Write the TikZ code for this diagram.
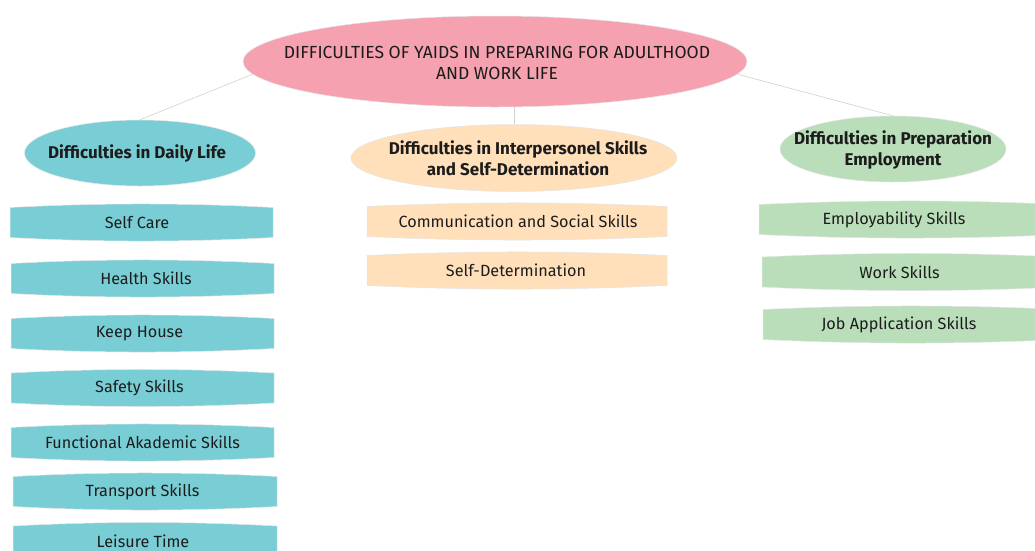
\documentclass[tikz,border=0pt]{standalone}
\usepackage{fontspec}
\setmainfont{Fira Sans}
\usetikzlibrary{shapes.geometric,calc}
\definecolor{rootpink}{RGB}{245,161,176}
\definecolor{tealc}{RGB}{121,206,214}
\definecolor{peach}{RGB}{255,224,186}
\definecolor{mint}{RGB}{185,222,185}
\definecolor{txt}{RGB}{28,28,28}
\tikzset{
  oval/.style={ellipse, inner sep=0pt, draw=black!10, line width=0.5pt},
  headtext/.style={inner sep=0pt, align=center, text=txt, font=\fontsize{17}{20.5}\selectfont\bfseries},
  roottext/.style={inner sep=0pt, align=center, text=txt, font=\fontsize{17.5}{21}\selectfont},
  itemtext/.style={inner sep=0pt, text=txt, font=\fontsize{16.2}{19}\selectfont},
  conn/.style={draw=black!18, line width=0.6pt},
  barrelfill/.style={draw=black!10, line width=0.5pt},
}
\newcommand\barrel[7]{%
  \fill[#5, barrelfill] ({#2},{#4-15}) .. controls ({#2+(#3-#2)/3},{#4-19.7}) and ({#3-(#3-#2)/3},{#4-19.7}) .. ({#3},{#4-15})
    -- ({#3},{#4+15}) .. controls ({#3-(#3-#2)/3},{#4+19.7}) and ({#2+(#3-#2)/3},{#4+19.7}) .. ({#2},{#4+15}) -- cycle;
  \node[itemtext] (#1) at ({#6},{#4}) {#7};}
\begin{document}
\begin{tikzpicture}[x=1pt,y=-1pt]
\useasboundingbox (0,0) rectangle (1035,550);
\clip (0,0) rectangle (1035,550);
% main ellipses
\node[oval, fill=rootpink, minimum width=504pt, minimum height=91pt] (root) at (495,61.5) {};
\node[roottext] (roottxt) at (497,62.5) {DIFFICULTIES OF YAIDS IN PREPARING FOR ADULTHOOD\\AND WORK LIFE};
\node[oval, fill=tealc, minimum width=231pt, minimum height=66pt] (daily) at (140,153) {};
\node[headtext] (dailytxt) at (137,153) {Difficulties in Daily Life};
\node[oval, fill=peach, minimum width=326pt, minimum height=67pt] (inter) at (514,158) {};
\node[headtext] (intertxt) at (518,158) {Difficulties in Interpersonel Skills\\and Self-Determination};
\node[oval, fill=mint, minimum width=226pt, minimum height=66pt] (prep) at (893,149) {};
\node[headtext] (preptxt) at (893,150) {Difficulties in Preparation\\Employment};
% connectors
\draw[conn] (root.183) -- (daily.north);
\draw[conn] (inter.north) -- (inter.north |- root.south);
\draw[conn] (root.357) -- (prep.north);
% left column
\barrel{selfcare}{10}{273}{222.5}{tealc}{137}{Self Care}
\barrel{health}{11}{274}{278.5}{tealc}{146}{Health Skills}
\barrel{keephouse}{11}{274}{333.5}{tealc}{139.5}{Keep House}
\barrel{safety}{11}{274}{388}{tealc}{139.5}{Safety Skills}
\barrel{functional}{11}{274}{442.5}{tealc}{142.5}{Functional Akademic Skills}
\barrel{transport}{13}{277}{491.5}{tealc}{142.5}{Transport Skills}
\barrel{leisure}{13}{277}{541}{tealc}{143}{Leisure Time}
% middle column
\barrel{comm}{367}{667}{221.5}{peach}{518}{Communication and Social Skills}
\barrel{selfdet}{367}{667}{270.5}{peach}{516}{Self-Determination}
% right column
\barrel{employ}{759}{1060}{219.5}{mint}{894}{Employability Skills}
\barrel{work}{762}{1060}{272}{mint}{899.5}{Work Skills}
\barrel{jobapp}{763}{1060}{324.5}{mint}{899}{Job Application Skills}
\end{tikzpicture}
\end{document}
